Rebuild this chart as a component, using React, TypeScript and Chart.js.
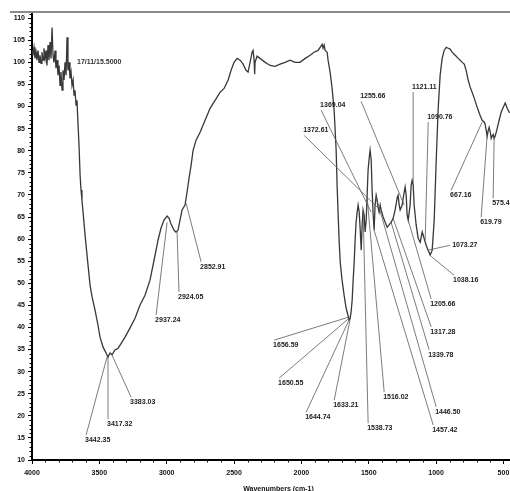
import React, { useEffect, useRef } from 'react';
import { Chart, registerables } from 'chart.js';
Chart.register(...registerables);

// IR spectrum: wavenumber (cm-1) vs transmittance (%)
const wavenumbers = [
  4000, 3993, 3985, 3978, 3970, 3963, 3955, 3948, 3941, 3933,
  3926, 3918, 3911, 3903, 3896, 3889, 3881, 3874, 3866, 3859,
  3851, 3844, 3837, 3829, 3822, 3814, 3807, 3799, 3792, 3785,
  3777, 3770, 3762, 3755, 3747, 3740, 3733, 3725, 3718, 3710,
  3703, 3695, 3688, 3681, 3673, 3666, 3658, 3651, 3643, 3636,
  3629, 3621, 3606, 3584, 3569, 3554, 3532, 3510, 3495, 3473,
  3450, 3436, 3421, 3406, 3384, 3361, 3346, 3309, 3272, 3235,
  3198, 3161, 3124, 3086, 3064, 3042, 3020, 2997, 2982, 2968,
  2945, 2931, 2916, 2901, 2886, 2864, 2849, 2834, 2819, 2804,
  2782, 2752, 2715, 2678, 2641, 2604, 2574, 2544, 2522, 2500,
  2477, 2455, 2433, 2411, 2396, 2381, 2366, 2359, 2351, 2347,
  2344, 2329, 2307, 2269, 2232, 2195, 2158, 2121, 2084, 2047,
  2010, 1972, 1935, 1906, 1876, 1861, 1846, 1839, 1831, 1824,
  1809, 1802, 1787, 1772, 1757, 1742, 1735, 1727, 1720, 1712,
  1698, 1683, 1668, 1653, 1646, 1638, 1631, 1623, 1616, 1608,
  1601, 1594, 1586, 1579, 1571, 1564, 1556, 1549, 1542, 1534,
  1527, 1519, 1512, 1505, 1497, 1490, 1482, 1475, 1467, 1460,
  1453, 1445, 1438, 1430, 1423, 1415, 1408, 1393, 1378, 1363,
  1349, 1334, 1319, 1304, 1289, 1282, 1274, 1267, 1252, 1237,
  1230, 1222, 1215, 1207, 1193, 1185, 1178, 1170, 1163, 1148,
  1133, 1118, 1103, 1089, 1074, 1059, 1044, 1029, 1014, 999,
  985, 970, 955, 940, 925, 910, 896, 881, 858, 836,
  821, 806, 791, 777, 762, 747, 732, 717, 702, 688,
  673, 658, 643, 636, 628, 621, 613, 606, 598, 591,
  584, 576, 569, 561, 546, 532, 517, 502, 487, 472,
  457, 435,
];

const transmittance = [
  102.7, 101.6, 103.4, 100.9, 102.3, 100.5, 102.7, 100.0, 101.6, 99.8,
  102.3, 100.5, 103.2, 100.9, 102.7, 99.3, 103.9, 100.5, 104.6, 100.9,
  107.9, 101.6, 100.0, 102.7, 98.7, 100.5, 97.1, 99.3, 94.8, 97.8,
  93.7, 98.2, 96.0, 100.0, 97.1, 105.7, 98.2, 100.0, 96.4, 97.8,
  94.8, 96.0, 92.6, 93.7, 90.3, 91.4, 85.8, 81.3, 74.5, 71.1,
  68.8, 66.1, 60.9, 54.1, 49.6, 46.9, 43.9, 40.5, 37.8, 35.6,
  34.2, 33.3, 34.2, 33.8, 34.9, 35.3, 36.0, 37.8, 39.9, 42.1,
  45.1, 47.3, 50.7, 56.4, 59.8, 62.5, 64.3, 65.2, 64.7, 63.4,
  62.0, 61.6, 62.0, 64.3, 66.6, 67.7, 70.6, 73.8, 76.7, 80.1,
  82.4, 84.2, 86.9, 89.6, 91.4, 93.2, 94.1, 96.0, 98.2, 100.0,
  100.9, 100.5, 99.6, 98.2, 97.8, 100.0, 102.3, 102.7, 100.5, 97.3,
  100.0, 101.4, 100.9, 100.0, 99.3, 99.1, 99.6, 100.0, 100.5, 100.0,
  100.0, 100.9, 101.6, 102.3, 102.7, 103.4, 104.1, 103.2, 103.9, 102.7,
  102.3, 100.5, 97.8, 94.1, 89.2, 80.1, 72.2, 65.4, 59.8, 54.8,
  50.7, 47.3, 44.4, 42.6, 41.7, 42.1, 43.5, 46.2, 50.7, 54.8,
  59.8, 63.8, 66.1, 67.7, 66.1, 62.5, 57.5, 63.2, 66.6, 65.4,
  61.6, 64.3, 69.9, 75.6, 78.3, 80.1, 77.9, 71.1, 65.4, 62.0,
  67.7, 69.9, 68.8, 67.0, 66.1, 67.7, 66.6, 65.0, 63.8, 62.7,
  63.2, 63.8, 64.7, 66.6, 69.3, 69.9, 67.7, 66.6, 67.7, 70.6,
  71.8, 69.9, 65.4, 64.3, 67.7, 72.2, 73.3, 72.2, 67.7, 63.2,
  60.2, 59.3, 61.6, 60.2, 58.6, 57.5, 56.4, 57.5, 64.3, 77.9,
  89.2, 97.1, 100.9, 102.7, 103.4, 103.2, 103.0, 102.3, 101.6, 100.9,
  100.5, 100.0, 99.6, 98.2, 96.0, 94.4, 93.2, 91.9, 90.5, 89.2,
  88.0, 86.9, 86.5, 86.0, 84.6, 83.3, 84.6, 85.3, 84.2, 82.8,
  83.3, 83.7, 82.8, 83.3, 85.1, 86.9, 88.7, 89.8, 90.8, 89.6,
  88.7, 88.5,
];

const xTickValues = [4000, 3500, 3000, 2500, 2000, 1500, 1000, 500];
const yTickValues = [10, 15, 20, 25, 30, 35, 40, 45, 50, 55, 60, 65, 70, 75, 80, 85, 90, 95, 100, 105, 110];

// Peak labels: text, where the text sits (wavenumber, %T), and where its leader ends
const peakLabels = [
  '3442.35', '3417.32', '3383.03', '2937.24', '2924.05', '2852.91',
  '1656.59', '1650.55', '1644.74', '1633.21', '1538.73', '1516.02',
  '1457.42', '1446.50', '1339.78', '1317.28', '1205.66', '1073.27',
  '1038.16', '667.16', '619.79', '575.4', '1372.61', '1369.04',
  '1255.66', '1121.11', '1090.76',
];
const labelTextWn = [
  3606, 3443, 3272, 3086, 2916, 2752,
  2210, 2173, 1972, 1764, 1512, 1393,
  1029, 1007, 1059, 1044, 1044, 881,
  874, 896, 673, 584, 1987, 1861,
  1564, 1178, 1066,
];
const labelTextT = [
  14.5, 18.1, 23.1, 41.7, 46.9, 53.7,
  36.0, 27.4, 19.7, 22.4, 17.2, 24.3,
  16.8, 20.9, 33.8, 39.0, 45.3, 58.6,
  50.7, 69.9, 63.8, 68.1, 84.6, 90.3,
  92.3, 94.4, 87.6,
];
const labelAnchorWn = [
  3443, 3436, 3413, 2997, 2923, 2856,
  1653, 1653, 1646, 1638, 1542, 1512,
  1460, 1445, 1334, 1319, 1207, 1059,
  1037, 658, 621, 569, 1430, 1482,
  1237, 1170, 1081,
];
const labelAnchorT = [
  33.3, 33.3, 34.2, 63.8, 61.6, 68.1,
  42.3, 41.9, 41.7, 41.9, 66.6, 69.5,
  62.0, 69.5, 63.8, 64.7, 64.3, 57.5,
  56.1, 86.5, 83.5, 82.8, 67.0, 66.1,
  67.7, 72.7, 59.8,
];

const headerNote = '17/11/15.5000';
const headerNoteWn = 3666;
const headerNoteT = 100.0;
const xTitle = 'Wavenumbers (cm-1)';

const FONT_FAMILY = '"Liberation Sans", Arial, sans-serif';

const decorations = {
  id: 'decorations',
  afterDatasetsDraw(chart: any) {
    const { ctx, scales, chartArea } = chart;
    const x = scales.x;
    const y = scales.y;
    ctx.save();
    ctx.font = `bold 7px ${FONT_FAMILY}`;
    ctx.textBaseline = 'middle';
    ctx.textAlign = 'left';
    peakLabels.forEach((t, i) => {
      const tx = x.getPixelForValue(labelTextWn[i]);
      const ty = y.getPixelForValue(labelTextT[i]);
      const ax = x.getPixelForValue(labelAnchorWn[i]);
      const ay = y.getPixelForValue(labelAnchorT[i]);
      let sx: number, sy: number;
      if (Math.abs(ay - ty) < 12) {
        sx = tx - 2;
        sy = ty;
      } else if (ay < ty) {
        sx = tx + 1;
        sy = ty - 5;
      } else {
        sx = tx + 1;
        sy = ty + 5;
      }
      ctx.strokeStyle = '#5a5a5a';
      ctx.lineWidth = 0.8;
      ctx.beginPath();
      ctx.moveTo(sx, sy);
      ctx.lineTo(ax, ay);
      ctx.stroke();
      ctx.fillStyle = '#222';
      ctx.fillText(t, tx, ty);
    });
    ctx.fillStyle = '#333';
    ctx.fillText(headerNote, x.getPixelForValue(headerNoteWn), y.getPixelForValue(headerNoteT));

    // minor ticks on axes
    ctx.strokeStyle = '#000';
    ctx.lineWidth = 1;
    ctx.beginPath();
    for (let v = 10; v <= 111; v += 1) {
      if (v % 5 === 0) continue;
      const py = Math.round(y.getPixelForValue(v)) + 0.5;
      ctx.moveTo(chartArea.left - 2.5, py);
      ctx.lineTo(chartArea.left, py);
    }
    for (let v = 400; v <= 4000; v += 100) {
      if (v % 500 === 0) continue;
      const px = Math.round(x.getPixelForValue(v)) + 0.5;
      ctx.moveTo(px, chartArea.bottom);
      ctx.lineTo(px, chartArea.bottom + 2.5);
    }
    ctx.stroke();

    // top frame line
    ctx.strokeStyle = '#8a8a8a';
    ctx.lineWidth = 2;
    ctx.beginPath();
    ctx.moveTo(10, chartArea.top);
    ctx.lineTo(chart.width, chartArea.top);
    ctx.stroke();
    ctx.restore();
  },
};

export default function App() {
  const canvasRef = useRef<HTMLCanvasElement | null>(null);

  useEffect(() => {
    document.body.style.margin = '0';
    const canvas = canvasRef.current;
    if (!canvas) return;
    const points = wavenumbers.map((w, i) => ({ x: w, y: transmittance[i] }));
    const chart = new Chart(canvas, {
      type: 'scatter',
      data: {
        datasets: [
          {
            data: points,
            showLine: true,
            borderColor: '#383838',
            borderWidth: 1.3,
            pointRadius: 0,
            tension: 0,
          },
        ],
      },
      options: {
        responsive: false,
        animation: false,
        layout: { padding: { left: 0, right: 5, top: 12, bottom: 0 } },
        plugins: {
          legend: { display: false },
          tooltip: { enabled: false },
        },
        scales: {
          x: {
            type: 'linear',
            reverse: true,
            min: 340,
            max: 4000,
            afterFit: (s: any) => {
              s.height = 33;
            },
            afterBuildTicks: (s: any) => {
              s.ticks = xTickValues.map((v) => ({ value: v }));
            },
            grid: { display: true, drawOnChartArea: false, drawTicks: true, tickLength: 4, color: '#000' },
            border: { display: true, color: '#000', width: 2 },
            ticks: {
              color: '#111',
              padding: 5,
              maxRotation: 0,
              autoSkip: false,
              font: { family: FONT_FAMILY, size: 7, weight: 'bold' },
              callback: (v: any) => String(v),
            },
            title: {
              display: true,
              text: xTitle,
              color: '#111',
              padding: { top: 0, bottom: 0 },
              font: { family: FONT_FAMILY, size: 7, weight: 'bold' },
            },
          },
          y: {
            type: 'linear',
            min: 10,
            max: 111.4,
            afterFit: (s: any) => {
              s.width = 32;
            },
            afterBuildTicks: (s: any) => {
              s.ticks = yTickValues.map((v) => ({ value: v }));
            },
            grid: { display: true, drawOnChartArea: false, drawTicks: true, tickLength: 4, color: '#000' },
            border: { display: true, color: '#000', width: 2 },
            ticks: {
              color: '#111',
              padding: 3,
              autoSkip: false,
              font: { family: FONT_FAMILY, size: 7, weight: 'bold' },
              callback: (v: any) => String(v),
            },
          },
        },
      },
      plugins: [decorations],
    });
    return () => chart.destroy();
  }, []);

  return (
    <div style={{ width: 510, height: 491, overflow: 'hidden', background: '#fff', position: 'relative' }}>
      <canvas ref={canvasRef} width={530} height={493} style={{ display: 'block' }} />
    </div>
  );
}
